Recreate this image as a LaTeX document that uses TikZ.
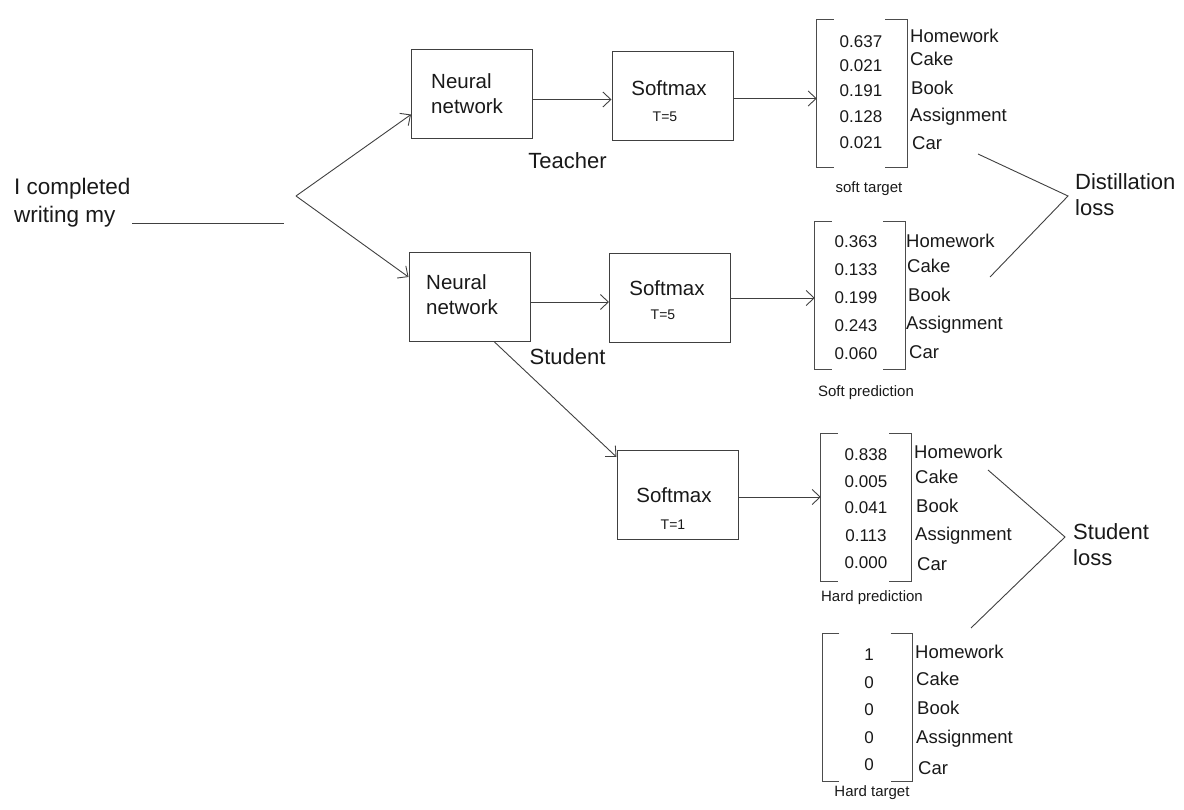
\documentclass[tikz,border=0pt]{standalone}
\usepackage{fontspec}
\setmainfont{Liberation Sans}
\usetikzlibrary{arrows.meta}

\begin{document}
\begin{tikzpicture}[x=1pt, y=-1pt,
		every node/.style={inner sep=0pt, text=black!90},
		box/.style={draw=black!75, line width=1pt, minimum width=121pt, minimum height=89pt},
		vec/.style={minimum width=90pt, minimum height=148pt},
		big/.style={font=\fontsize{20.5}{25}\selectfont, align=left},
		title/.style={font=\fontsize{22}{26}\selectfont, align=left},
		tee/.style={font=\fontsize{14}{16}\selectfont},
		num/.style={font=\fontsize{17}{19}\selectfont},
		word/.style={font=\fontsize{18.5}{20}\selectfont, anchor=west},
		note/.style={font=\fontsize{15}{17}\selectfont},
		brk/.style={draw=black!70, line width=1pt},
		link/.style={draw=black!75, line width=0.9pt, -{Straight Barb[length=8pt,width=15pt]}},
		loss/.style={draw=black!75, line width=0.9pt}]
	\useasboundingbox (0,0) rectangle (1184,810);

	% Input sentence
	\node[title, anchor=west, font=\fontsize{22.5}{28}\selectfont] (input) at (14,203) {I completed\\writing my};
	\coordinate (blankA) at (132,223);
	\coordinate (blankB) at (284,223);
	\draw[loss] (blankA) -- (blankB);
	\coordinate (fork) at (296,196);

	% Teacher branch
	\node[box] (tnn) at (472,94.5) {};
	\node[big, anchor=west] (tnnt) at (431,94) {Neural\\network};
	\node[box] (tsm) at (672.5,96.5) {};
	\node[big] (tsmt) at (669,88) {Softmax};
	\node[tee] (tsmT) at (665,117) {T=5};
	\node[title] (teacher) at (567.5,161) {Teacher};

	% Student branch
	\node[box] (snn) at (469.5,297) {};
	\node[big, anchor=west] (snnt) at (426,295) {Neural\\network};
	\node[box] (ssm) at (670,298) {};
	\node[big] (ssmt) at (667,288) {Softmax};
	\node[tee] (ssmT) at (663,315) {T=5};
	\node[title] (student) at (567.5,357) {Student};
	\node[box] (hsm) at (677.5,495) {};
	\node[big] (hsmt) at (674,495) {Softmax};
	\node[tee] (hsmT) at (673,525) {T=1};

	% Vectors
	\node[vec] (tv) at (862,93.5) {};
	\node[vec] (sv) at (860,295.5) {};
	\node[vec] (hv) at (866,507.5) {};
	\node[vec] (gv) at (867.5,707.5) {};
	\foreach \v in {tv,sv,hv,gv} {
		\draw[brk] ([xshift=17pt]\v.north west) -| (\v.south west) -- ++(17,0);
		\draw[brk] ([xshift=-22pt]\v.north east) -| (\v.south east) -- ++(-22,0);
	}

	\foreach \p/\y [count=\i] in {0.637/42, 0.021/66, 0.191/91, 0.128/117, 0.021/143}
		\node[num] (tvn\i) at (861,\y) {\p};
	\foreach \w/\x/\y [count=\i] in {Homework/910/36, Cake/910/59, Book/911/88, Assignment/910/117, Car/912/143}
		\node[word] (tvw\i) at (\x,\y) {\w};
	\node[note] (tvc) at (869,189) {soft target};

	\foreach \p/\y [count=\i] in {0.363/242, 0.133/270, 0.199/298, 0.243/326, 0.060/354}
		\node[num] (svn\i) at (856,\y) {\p};
	\foreach \w/\x/\y [count=\i] in {Homework/906/241, Cake/907/266, Book/908/295, Assignment/906/325, Car/909/352}
		\node[word] (svw\i) at (\x,\y) {\w};
	\node[note] (svc) at (866,393) {Soft prediction};

	\foreach \p/\y [count=\i] in {0.838/455, 0.005/482, 0.041/508, 0.113/536, 0.000/563}
		\node[num] (hvn\i) at (866,\y) {\p};
	\foreach \w/\x/\y [count=\i] in {Homework/914/452, Cake/915/477, Book/916/506, Assignment/915/536, Car/917/564}
		\node[word] (hvw\i) at (\x,\y) {\w};
	\node[note] (hvc) at (872,598) {Hard prediction};

	\foreach \p/\y [count=\i] in {1/655, 0/683, 0/710, 0/738, 0/765}
		\node[num] (gvn\i) at (869,\y) {\p};
	\foreach \w/\x/\y [count=\i] in {Homework/915/652, Cake/916/679, Book/917/708, Assignment/916/739, Car/918/768}
		\node[word] (gvw\i) at (\x,\y) {\w};
	\node[note] (gvc) at (872,793) {Hard target};

	% Connectors
	\draw[link] (fork) -- ([yshift=-20pt]tnn.west);
	\draw[link] (fork) -- ([yshift=20pt]snn.west);
	\draw[link] ([yshift=-5pt]tnn.east) -- ([yshift=-5pt]tnn.east -| tsm.west);
	\draw[link] ([yshift=-2pt]tsm.east) -- ([yshift=-2pt]tsm.east -| tv.west);
	\draw[link] ([yshift=-5pt]snn.east) -- ([yshift=-5pt]snn.east -| ssm.west);
	\draw[link] (ssm.east) -- (ssm.east -| sv.west);
	\draw[link] ([xshift=25pt]snn.south) -- ([yshift=-7pt]hsm.north west);
	\draw[link] ([yshift=-2pt]hsm.east) -- ([yshift=-2pt]hsm.east -| hv.west);

	% Losses
	\coordinate (dlA) at (978,154);
	\coordinate (dlB) at (1068,196);
	\coordinate (dlC) at (990,277);
	\draw[loss] (dlA) -- (dlB) -- (dlC);
	\node[title, anchor=west] (dloss) at (1075,195) {Distillation\\loss};
	\coordinate (slA) at (988,470);
	\coordinate (slB) at (1065,537);
	\coordinate (slC) at (971,628);
	\draw[loss] (slA) -- (slB) -- (slC);
	\node[title, anchor=west] (sloss) at (1073,545) {Student\\loss};
\end{tikzpicture}
\end{document}
